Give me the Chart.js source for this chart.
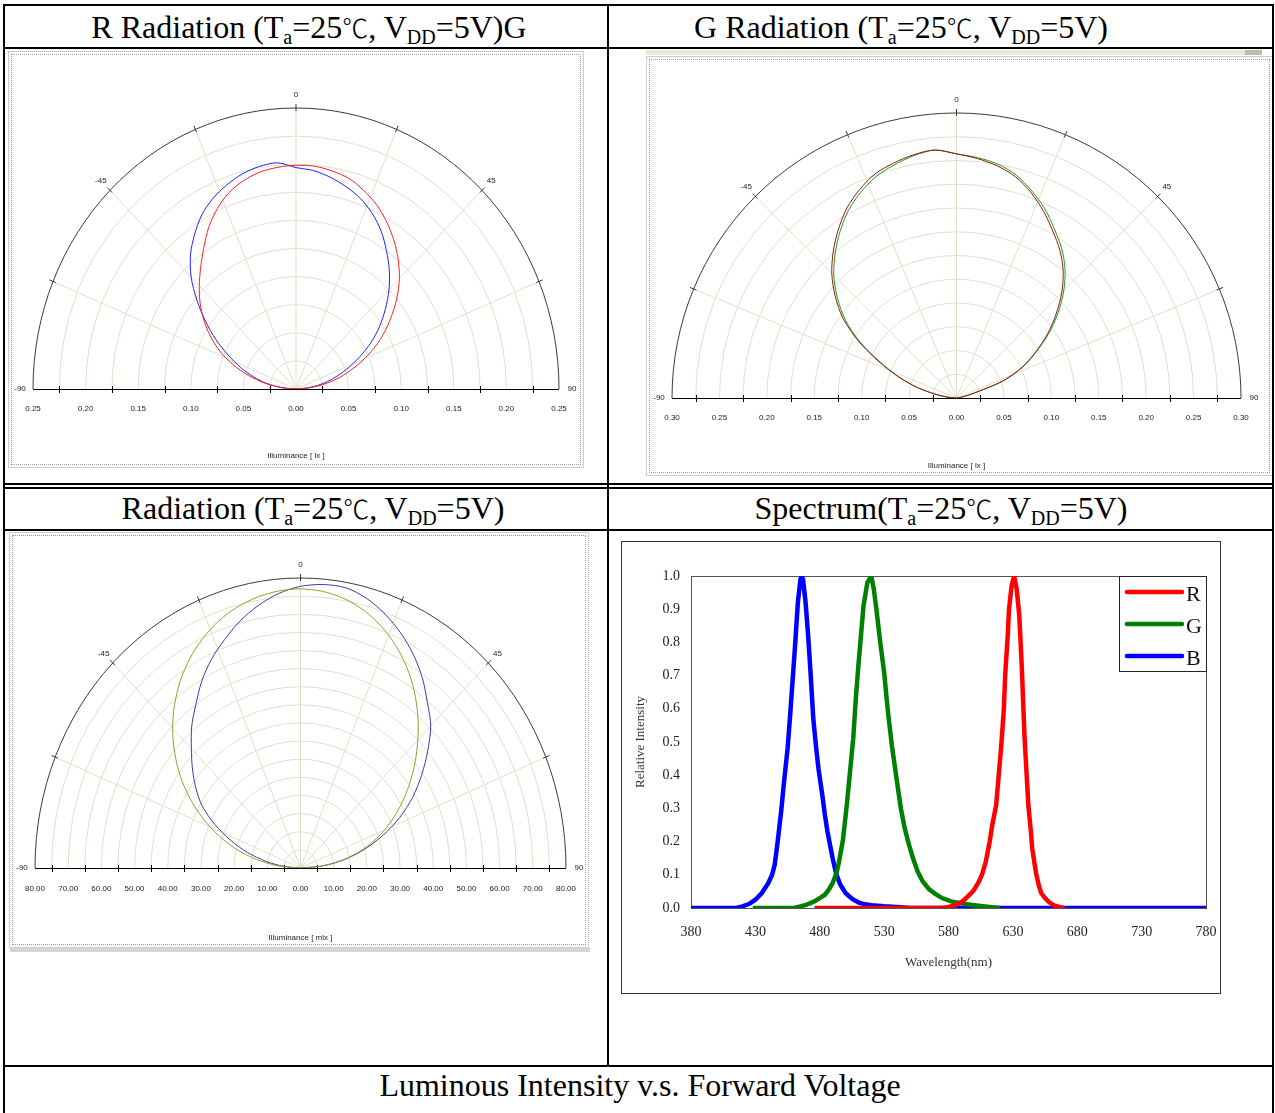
<!DOCTYPE html>
<html>
<head>
<meta charset="utf-8">
<script src="https://cdn.jsdelivr.net/npm/chart.js@4.4.0/dist/chart.umd.min.js"></script>
<style>
  body { margin: 0; background: #fff; width: 1275px; height: 1113px; position: relative; overflow: hidden;
         font-family: "Liberation Serif", "Times New Roman", "Noto Sans CJK TC", serif; }
  .ln { position: absolute; background: #000; }
  .ttl { position: absolute; width: 640px; height: 40px; line-height: 40px; text-align: center;
         font-size: 32px; white-space: nowrap; color: #000; }
  .ttl sub { font-size: 20px; vertical-align: -6px; line-height: 0; }
  .ttl .cj { font-family: "Noto Sans CJK TC", sans-serif; font-size: 26px; font-weight: 300; }
  .frm { position: absolute; box-sizing: border-box; border: 1px solid #cfcfcf; }
  .frm::after { content: ""; position: absolute; left: 2px; top: 2px; right: 2px; bottom: 2px; border: 1px dotted #9a9a9a; }
  canvas { position: absolute; }
</style>
</head>
<body>
<!-- table lines -->
<div class="ln" style="left:3px;top:4px;width:1271px;height:2px"></div>
<div class="ln" style="left:3px;top:4px;width:2px;height:1109px"></div>
<div class="ln" style="left:1272px;top:4px;width:2px;height:1109px"></div>
<div class="ln" style="left:607px;top:4px;width:2px;height:1063px"></div>
<div class="ln" style="left:3px;top:47px;width:1271px;height:2px"></div>
<div class="ln" style="left:3px;top:483px;width:1271px;height:2px"></div>
<div class="ln" style="left:3px;top:487px;width:1271px;height:2px"></div>
<div class="ln" style="left:3px;top:529px;width:1271px;height:2px"></div>
<div class="ln" style="left:3px;top:1065px;width:1271px;height:2px"></div>

<div class="ttl" style="left:-11px;top:7px">R Radiation (T<sub>a</sub>=25<span class="cj">℃</span>, V<sub>DD</sub>=5V)G</div>
<div class="ttl" style="left:581px;top:7px">G Radiation (T<sub>a</sub>=25<span class="cj">℃</span>, V<sub>DD</sub>=5V)</div>
<div class="ttl" style="left:-7px;top:488px">Radiation (T<sub>a</sub>=25<span class="cj">℃</span>, V<sub>DD</sub>=5V)</div>
<div class="ttl" style="left:621px;top:488px">Spectrum(T<sub>a</sub>=25<span class="cj">℃</span>, V<sub>DD</sub>=5V)</div>
<div class="ttl" style="left:320px;top:1065px">Luminous Intensity v.s. Forward Voltage</div>

<!-- picture frames -->
<div class="frm" style="left:8px;top:51px;width:576px;height:417px"></div>
<div style="position:absolute;left:645px;top:50px;width:600px;height:5px;background:#ece9d8"></div>
<div style="position:absolute;left:1245px;top:50px;width:17px;height:5px;background:#bdbab0"></div>
<div class="frm" style="left:646px;top:56px;width:626px;height:420px;border-right:none"></div>
<div class="frm" style="left:9px;top:532px;width:580px;height:416px"></div>
<div style="position:absolute;left:10px;top:948px;width:580px;height:4px;background:#d8d5cc"></div>
<div style="position:absolute;left:621px;top:541px;width:600px;height:453px;box-sizing:border-box;border:1px solid #333"></div>

<canvas id="polarR" width="573" height="414" style="left:9px;top:52px"></canvas>
<canvas id="polarG" width="615" height="416" style="left:647px;top:58px"></canvas>
<canvas id="polarAll" width="577" height="413" style="left:10px;top:533px"></canvas>
<canvas id="spectrum" width="598" height="451" style="left:622px;top:542px"></canvas>

<script>
// angle of each radiation sample, degrees
const angleDeg = [-90, -85, -80, -75, -70, -65, -60, -55, -50, -45, -40, -35, -30, -25, -20, -15, -10, -5, 0,
  5, 10, 15, 20, 25, 30, 35, 40, 45, 50, 55, 60, 65, 70, 75, 80, 85, 90];
const angleTicks = [-90, -45, 0, 45, 90];

// R radiation plot (lx)
const rPlotRed = [0, 0.013, 0.030, 0.047, 0.064, 0.080, 0.094, 0.107, 0.119, 0.130, 0.141, 0.153, 0.166, 0.177,
  0.186, 0.192, 0.196, 0.198, 0.199, 0.199, 0.197, 0.194, 0.188, 0.181, 0.172, 0.162, 0.151, 0.139, 0.125, 0.110,
  0.095, 0.079, 0.062, 0.046, 0.030, 0.014, 0];
const rPlotBlue = [0, 0.013, 0.028, 0.042, 0.056, 0.071, 0.088, 0.105, 0.123, 0.141, 0.156, 0.168, 0.179, 0.187,
  0.193, 0.198, 0.201, 0.202, 0.197, 0.195, 0.191, 0.186, 0.180, 0.172, 0.162, 0.150, 0.138, 0.125, 0.111, 0.097,
  0.082, 0.066, 0.051, 0.037, 0.024, 0.011, 0];

// G radiation plot (lx)
const gPlotRed = [0, 0.008, 0.022, 0.043, 0.065, 0.090, 0.119, 0.146, 0.167, 0.186, 0.202, 0.217, 0.231, 0.242,
  0.251, 0.256, 0.260, 0.262, 0.257, 0.253, 0.248, 0.241, 0.230, 0.217, 0.203, 0.190, 0.175, 0.157, 0.137, 0.117,
  0.096, 0.076, 0.051, 0.017, 0.006, 0.002, 0];
const gPlotGreen = [0, 0.008, 0.022, 0.043, 0.064, 0.088, 0.117, 0.143, 0.164, 0.183, 0.199, 0.214, 0.228, 0.239,
  0.248, 0.254, 0.259, 0.262, 0.257, 0.254, 0.250, 0.243, 0.232, 0.220, 0.206, 0.193, 0.178, 0.160, 0.140, 0.119,
  0.097, 0.077, 0.052, 0.017, 0.006, 0.002, 0];

// combined radiation plot (mlx)
const allOlive = [0, 6.7, 13.4, 20, 26.3, 32.5, 38.5, 44.2, 49.5, 54.5, 59, 63.1, 66.7, 69.8, 72.4, 74.4, 75.8,
  76.7, 77, 76.6, 75.5, 73.6, 71, 67.8, 64, 59.7, 55, 50, 45, 40, 35, 30, 24.8, 19.2, 13, 6.5, 0];
const allBlue = [0, 5, 10.5, 16.5, 22.5, 28.5, 34.2, 38.5, 42.5, 46.5, 51, 55, 59.5, 63.5, 67, 70.5, 73.5, 76,
  77.7, 78.5, 78.5, 77, 74.5, 71.5, 68, 64, 59.5, 55.5, 50, 44.5, 39, 33, 26.5, 20, 13.5, 6.8, 0];

// spectrum, wavelength (nm) and relative intensity
const redNm = [476, 575, 580, 585, 591, 595, 599, 603, 606, 609, 612, 614, 617, 619, 621, 623, 624, 626, 627, 629,
  631, 633, 635, 637, 638, 639, 641, 642, 644, 645, 647, 648, 650, 652, 655, 658, 662, 666, 670];
const redVal = [0, 0, 0.003, 0.008, 0.02, 0.035, 0.05, 0.075, 0.10, 0.14, 0.20, 0.25, 0.31, 0.40, 0.49, 0.60, 0.70,
  0.82, 0.90, 0.97, 1.0, 0.96, 0.88, 0.72, 0.62, 0.52, 0.38, 0.31, 0.23, 0.18, 0.13, 0.105, 0.07, 0.045, 0.03,
  0.018, 0.008, 0.003, 0];
const greenNm = [428, 460, 465, 470, 476, 480, 484, 487, 490, 493, 495, 498, 501, 503, 506, 508, 510, 512, 514, 517,
  520, 522, 524, 527, 530, 533, 536, 540, 543, 546, 549, 552, 556, 560, 565, 570, 575, 582, 590, 597, 605, 612, 620];
const greenVal = [0, 0, 0.005, 0.01, 0.02, 0.03, 0.04, 0.055, 0.075, 0.105, 0.14, 0.205, 0.31, 0.39, 0.51, 0.63,
  0.73, 0.82, 0.91, 0.98, 1.0, 0.96, 0.90, 0.80, 0.71, 0.59, 0.49, 0.38, 0.30, 0.24, 0.195, 0.155, 0.11, 0.08,
  0.056, 0.042, 0.03, 0.02, 0.014, 0.01, 0.006, 0.003, 0];
const blueNm = [380, 415, 420, 425, 430, 435, 440, 443, 445, 447, 450, 452, 455, 457, 459, 461, 463, 465, 466, 467,
  469, 471, 473, 475, 477, 479, 482, 484, 486, 488, 490, 493, 496, 500, 505, 510, 515, 520, 530, 540, 550, 780];
const blueVal = [0, 0, 0.005, 0.012, 0.025, 0.045, 0.075, 0.10, 0.13, 0.19, 0.29, 0.37, 0.48, 0.58, 0.69, 0.80,
  0.92, 0.99, 1.0, 0.99, 0.92, 0.82, 0.70, 0.57, 0.49, 0.42, 0.34, 0.28, 0.23, 0.19, 0.15, 0.10, 0.07, 0.045,
  0.028, 0.017, 0.011, 0.008, 0.005, 0.003, 0, 0];

const toXY = (rs) => rs.map((r, i) => {
  const t = angleDeg[i] * Math.PI / 180;
  return { x: r * Math.sin(t), y: r * Math.cos(t) };
});
const pairs = (xs, ys) => xs.map((v, i) => ({ x: v, y: ys[i] }));

// half-polar grid, drawn through the x/y scales
const polarGrid = {
  id: "polarGrid",
  beforeDatasetsDraw(chart, args, o) {
    const { ctx, scales: { x, y } } = chart;
    const cx = x.getPixelForValue(0), cy = y.getPixelForValue(0);
    const ex = (v) => x.getPixelForValue(v) - cx;
    const ey = (v) => cy - y.getPixelForValue(v);
    const rx = ex(o.max), ry = ey(o.max);
    ctx.save();
    ctx.lineWidth = 1;
    ctx.strokeStyle = "#e2dfcb";
    const nRing = Math.round(o.max / o.ring);
    for (let k = 1; k < nRing; k++) {
      ctx.beginPath();
      ctx.ellipse(cx, cy, ex(k * o.ring), ey(k * o.ring), 0, Math.PI, 2 * Math.PI);
      ctx.stroke();
    }
    o.spokes.forEach((d) => {
      const t = d * Math.PI / 180;
      ctx.beginPath();
      ctx.moveTo(cx, cy);
      ctx.lineTo(cx + rx * Math.sin(t), cy - ry * Math.cos(t));
      ctx.stroke();
    });
    ctx.strokeStyle = "#3a3a3a";
    ctx.beginPath();
    ctx.ellipse(cx, cy, rx, ry, 0, Math.PI, 2 * Math.PI);
    ctx.stroke();
    o.spokes.forEach((d) => {
      const t = d * Math.PI / 180;
      const px = cx + rx * Math.sin(t), py = cy - ry * Math.cos(t);
      ctx.beginPath();
      ctx.moveTo(px - Math.sin(t) * 3, py + Math.cos(t) * 3);
      ctx.lineTo(px + Math.sin(t) * 4, py - Math.cos(t) * 4);
      ctx.stroke();
    });
    ctx.strokeStyle = "#000";
    ctx.beginPath();
    ctx.moveTo(cx - rx, cy + 0.5);
    ctx.lineTo(cx + rx, cy + 0.5);
    ctx.stroke();
    const nLab = Math.round(o.max / o.step);
    for (let k = -nLab; k < nLab; k++) {
      const px = Math.round(x.getPixelForValue((k + 0.5) * o.step)) + 0.5;
      ctx.beginPath();
      ctx.moveTo(px, cy - 3);
      ctx.lineTo(px, cy + 4);
      ctx.stroke();
    }
    ctx.fillStyle = "#222";
    ctx.font = '8px "Liberation Sans", Arial, sans-serif';
    ctx.textAlign = "center";
    ctx.textBaseline = "middle";
    for (let k = -nLab; k <= nLab; k++) {
      const v = k * o.step;
      ctx.fillText(Math.abs(v).toFixed(2), x.getPixelForValue(v), cy + o.labelGap);
    }
    angleTicks.forEach((d) => {
      const t = d * Math.PI / 180;
      const px = cx + rx * Math.sin(t), py = cy - ry * Math.cos(t);
      ctx.fillText(String(d), px + Math.sin(t) * 13, py - Math.cos(t) * 13);
    });
    ctx.fillText(o.title, cx, cy + o.titleGap);
    ctx.restore();
  },
};

function polarChart(id, sets, grid, padding) {
  return new Chart(document.getElementById(id), {
    type: "scatter",
    data: {
      datasets: sets.map((s) => ({
        data: toXY(s.r), borderColor: s.color, showLine: true, pointRadius: 0, borderWidth: 1, tension: 0.3,
      })),
    },
    options: {
      responsive: false,
      animation: false,
      layout: { padding },
      scales: {
        x: { type: "linear", min: -grid.max, max: grid.max, display: false },
        y: { type: "linear", min: 0, max: grid.max, display: false },
      },
      plugins: { legend: { display: false }, tooltip: { enabled: false }, polarGrid: grid },
    },
    plugins: [polarGrid],
  });
}

const spokes = [-67.5, -45, -22.5, 0, 22.5, 45, 67.5];

polarChart("polarR",
  [{ r: rPlotRed, color: "#ff2020" }, { r: rPlotBlue, color: "#2020ff" }],
  { max: 0.25, ring: 0.025, step: 0.05, spokes, labelGap: 20, titleGap: 67, title: "Illuminance [ lx ]" },
  { left: 24, right: 23, top: 56, bottom: 77 });

polarChart("polarG",
  [{ r: gPlotRed, color: "#9a1414" }, { r: gPlotGreen, color: "#1c9c1c" }],
  { max: 0.30, ring: 0.025, step: 0.05, spokes, labelGap: 20, titleGap: 68, title: "Illuminance [ lx ]" },
  { left: 25, right: 21, top: 55, bottom: 76 });

polarChart("polarAll",
  [{ r: allOlive, color: "#9e9a2a" }, { r: allBlue, color: "#3a3ab4" }],
  { max: 80, ring: 5, step: 10, spokes, labelGap: 21, titleGap: 70, title: "Illuminance [ mlx ]" },
  { left: 25, right: 21, top: 45, bottom: 78 });

// plot box and inner legend of the spectrum
const specDecor = {
  id: "specDecor",
  beforeDatasetsDraw(chart) {
    const { ctx, chartArea: a } = chart;
    ctx.save();
    ctx.strokeStyle = "#555";
    ctx.lineWidth = 1;
    ctx.strokeRect(Math.round(a.left) + 0.5, Math.round(a.top) + 0.5,
      Math.round(a.right - a.left), Math.round(a.bottom - a.top));
    ctx.restore();
  },
  afterDatasetsDraw(chart) {
    const { ctx, chartArea: a } = chart;
    const bx = Math.round(a.right) - 87, by = Math.round(a.top);
    ctx.save();
    ctx.fillStyle = "#fff";
    ctx.fillRect(bx, by, 87, 95);
    ctx.strokeStyle = "#222";
    ctx.lineWidth = 1;
    ctx.strokeRect(bx + 0.5, by + 0.5, 87, 95);
    ctx.font = '22px "Liberation Serif", "Times New Roman", serif';
    ctx.textBaseline = "middle";
    chart.data.datasets.forEach((ds, i) => {
      const ly = by + 16 + i * 32;
      ctx.strokeStyle = ds.borderColor;
      ctx.lineWidth = 4.5;
      ctx.lineCap = "round";
      ctx.beginPath();
      ctx.moveTo(bx + 8, ly);
      ctx.lineTo(bx + 63, ly);
      ctx.stroke();
      ctx.fillStyle = "#111";
      ctx.fillText(ds.label, bx + 67, ly + 3);
    });
    ctx.restore();
  },
};

const serif = '"Liberation Serif", "Times New Roman", serif';

new Chart(document.getElementById("spectrum"), {
  type: "scatter",
  data: {
    datasets: [
      { label: "R", data: pairs(redNm, redVal), borderColor: "#ff0000" },
      { label: "G", data: pairs(greenNm, greenVal), borderColor: "#008000" },
      { label: "B", data: pairs(blueNm, blueVal), borderColor: "#0000ff" },
    ].map((d) => Object.assign(d, { showLine: true, pointRadius: 0, borderWidth: 4.5, tension: 0 })),
  },
  options: {
    responsive: false,
    animation: false,
    layout: { padding: { left: 11, top: 34, right: 14, bottom: 23 } },
    scales: {
      x: {
        type: "linear", min: 380, max: 780,
        grid: { display: false, drawTicks: false }, border: { display: false },
        ticks: { stepSize: 50, padding: 16, color: "#222", font: { family: serif, size: 14 }, callback: (v) => String(v) },
        title: { display: true, text: "Wavelength(nm)", color: "#333", padding: 0, font: { family: serif, size: 13 } },
        afterFit: (s) => { s.height = 62; s.paddingLeft = 0; s.paddingRight = 0; },
      },
      y: {
        type: "linear", min: 0, max: 1,
        grid: { display: false, drawTicks: false }, border: { display: false },
        ticks: { stepSize: 0.1, padding: 11, color: "#222", font: { family: serif, size: 14 }, callback: (v) => v.toFixed(1) },
        title: { display: true, text: "Relative Intensity", color: "#333", padding: 0, font: { family: serif, size: 13 } },
        afterFit: (s) => { s.width = 58; },
      },
    },
    plugins: { legend: { display: false }, tooltip: { enabled: false } },
  },
  plugins: [specDecor],
});
</script>
</body>
</html>
